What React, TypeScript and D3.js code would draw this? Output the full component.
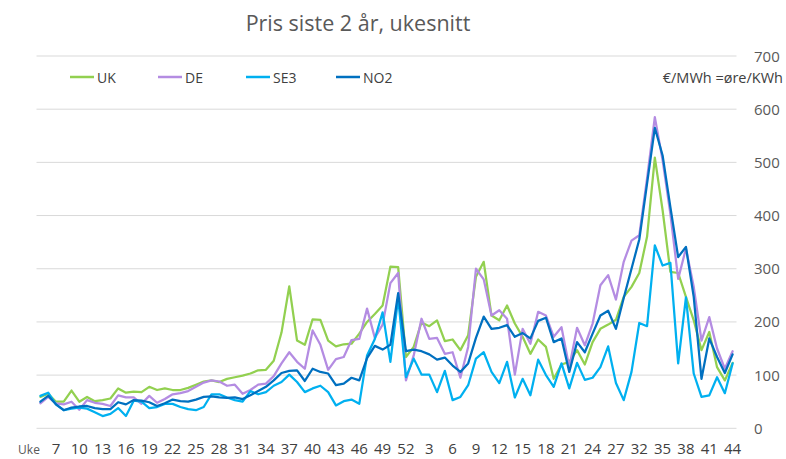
import React from "react";
import * as d3 from "d3";

const weeks: number[] = [
  5, 6, 7, 8, 9, 10, 11, 12, 13, 14, 15, 16, 17, 18, 19, 20, 21, 22, 23, 24, 25, 26, 27, 28, 29, 30,
  31, 32, 33, 34, 35, 36, 37, 38, 39, 40, 41, 42, 43, 44, 45, 46, 47, 48, 49, 50, 51, 52,
  1, 2, 3, 4, 5, 6, 7, 8, 9, 10, 11, 12, 13, 14, 15, 16, 17, 18, 19, 20, 21, 22, 23, 24, 25, 26, 27,
  30, 31, 32, 33, 34, 35, 36, 37, 38, 39, 40, 41, 42, 43, 44,
];

const uk: number[] = [
  59, 65, 50, 50, 71, 50, 59, 51, 53, 56, 75, 67, 69, 68, 78, 72, 75, 72, 72, 76,
  82, 88, 90, 87, 93, 96, 99, 103, 109, 110, 127, 180, 267, 165, 157, 205, 204, 165, 154, 158,
  159, 178, 200, 215, 231, 304, 303, 134, 153, 199, 192, 203, 164, 167, 147, 175, 285, 313, 212, 203,
  231, 197, 172, 140, 167, 153, 93, 120, 125, 147, 120, 162, 187, 195, 204, 247, 266, 292, 360, 509,
  410, 294, 292, 247, 203, 147, 181, 115, 90, 123,
];

const de: number[] = [
  47, 59, 47, 45, 50, 35, 53, 48, 46, 42, 62, 58, 58, 46, 61, 48, 55, 64, 66, 70,
  78, 86, 90, 88, 80, 82, 65, 72, 82, 84, 98, 122, 143, 125, 112, 184, 157, 110, 130, 134,
  166, 168, 225, 170, 195, 273, 292, 90, 137, 206, 168, 170, 140, 143, 95, 153, 300, 280, 212, 222,
  206, 101, 187, 159, 219, 212, 172, 190, 115, 189, 156, 197, 269, 288, 242, 313, 353, 363, 470, 585,
  504, 403, 281, 338, 266, 165, 209, 150, 112, 145,
];

const se3: number[] = [
  61, 67, 45, 34, 37, 39, 37, 30, 23, 27, 38, 23, 52, 50, 38, 40, 46, 46, 40, 36,
  34, 40, 64, 64, 58, 53, 50, 70, 64, 68, 80, 87, 101, 87, 68, 75, 80, 68, 43, 51,
  54, 46, 137, 168, 218, 125, 245, 96, 131, 101, 101, 68, 108, 53, 59, 81, 131, 143, 106, 85,
  125, 58, 93, 62, 129, 100, 78, 122, 75, 123, 91, 95, 115, 154, 85, 53, 106, 198, 192, 344,
  306, 311, 122, 246, 103, 59, 62, 96, 66, 122,
];

const no2: number[] = [
  50, 61, 45, 34, 39, 41, 42, 38, 36, 36, 49, 45, 53, 52, 49, 42, 47, 54, 51, 50,
  54, 59, 60, 58, 57, 58, 55, 62, 70, 78, 90, 104, 108, 109, 89, 112, 106, 103, 81, 84,
  95, 90, 132, 155, 148, 157, 254, 145, 148, 145, 139, 129, 133, 118, 106, 122, 170, 210, 187, 189,
  194, 172, 179, 169, 202, 208, 162, 169, 106, 162, 143, 178, 212, 221, 187, 245, 300, 355, 460, 565,
  513, 416, 322, 341, 247, 93, 169, 134, 104, 139,
];

const seriesNames: string[] = ["UK", "DE", "SE3", "NO2"];
const seriesColors: string[] = ["#92D050", "#B48CE2", "#00B0F0", "#0070C0"];
const yTicks: number[] = [0, 100, 200, 300, 400, 500, 600, 700];

const W = 786;
const H = 459;
const FONT = "'Open Sans', 'Noto Sans', sans-serif";

export default function App() {
  const seriesData = [uk, de, se3, no2];
  const idx = weeks.map((_, i) => i);
  const xBand = d3.scaleBand<number>().domain(idx).range([36.5, 736.5]).padding(0);
  const xc = (i: number) => (xBand(i) as number) + xBand.bandwidth() / 2;
  const y = d3.scaleLinear().domain([0, 700]).range([428.3, 56]);

  const line = (vals: number[]) =>
    d3
      .line<number>()
      .x((_, i) => xc(i))
      .y((d) => y(d))(vals) as string;

  const legendX = [70, 158, 246, 336];

  return (
    <svg
      width={W}
      height={H}
      style={{ position: "absolute", left: 0, top: 0, background: "#fff" }}
      fontFamily={FONT}
    >
      <rect x={0} y={0} width={W} height={H} fill="#fff" />
      <text x={358} y={31} textAnchor="middle" fontSize={21.5} fill="#595959">
        Pris siste 2 år, ukesnitt
      </text>

      {yTicks.map((t) => (
        <g key={t}>
          <line x1={36.5} x2={736.5} y1={y(t)} y2={y(t)} stroke="#D9D9D9" strokeWidth={1} />
          <text x={754} y={y(t) + 5.5} fontSize={15} fill="#595959">
            {t}
          </text>
        </g>
      ))}

      {seriesData.map((vals, k) => (
        <path
          key={seriesNames[k]}
          d={line(vals)}
          fill="none"
          stroke={seriesColors[k]}
          strokeWidth={2.25}
          strokeLinejoin="round"
          strokeLinecap="round"
        />
      ))}

      {seriesNames.map((n, k) => (
        <g key={n}>
          <line
            x1={legendX[k]}
            x2={legendX[k] + 24}
            y1={77}
            y2={77}
            stroke={seriesColors[k]}
            strokeWidth={2.5}
          />
          <text x={legendX[k] + 27} y={82.5} fontSize={14} fill="#404040">
            {n}
          </text>
        </g>
      ))}
      <text x={783} y={82.5} textAnchor="end" fontSize={14.5} fill="#404040">
        €/MWh =øre/KWh
      </text>

      <text x={29} y={454} textAnchor="middle" fontSize={12} fill="#595959">
        Uke
      </text>
      {weeks.map((w, i) =>
        i % 3 === 2 ? (
          <text key={i} x={xc(i)} y={454} textAnchor="middle" fontSize={15} fill="#404040">
            {w}
          </text>
        ) : null
      )}
    </svg>
  );
}
